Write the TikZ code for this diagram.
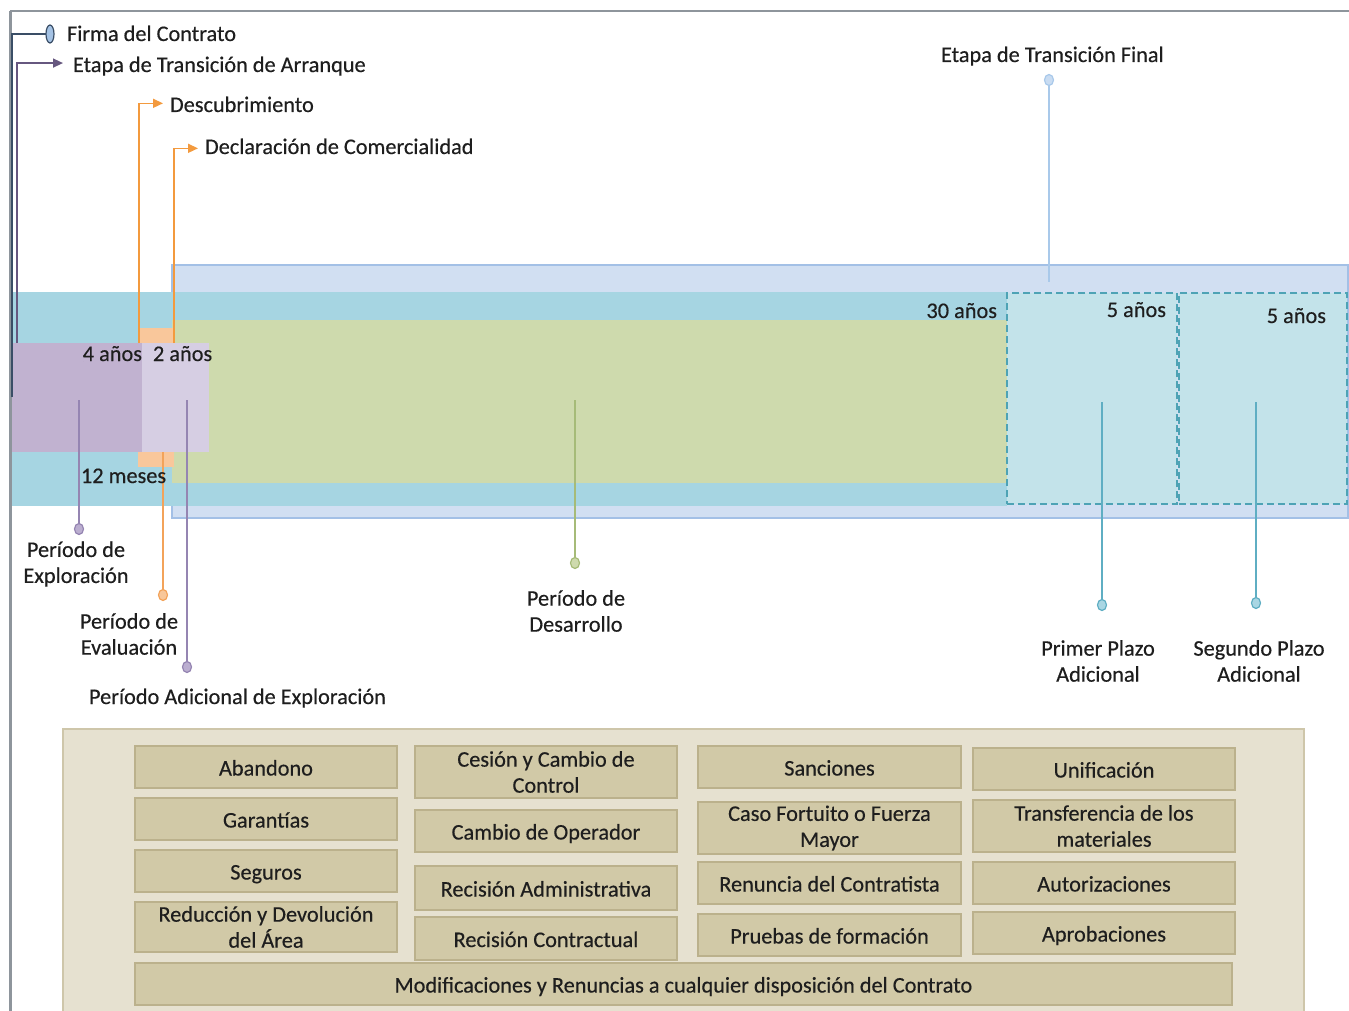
\documentclass[tikz,border=0pt]{standalone}
\usepackage{fontspec}
\setmainfont{Carlito}[FakeBold=0.4]
\usetikzlibrary{arrows.meta,shapes.geometric}
\definecolor{framec}{HTML}{8E959C}
\definecolor{navy}{HTML}{3A4E66}
\definecolor{dpurple}{HTML}{66577F}
\definecolor{orangeln}{HTML}{F39A3E}
\definecolor{blueband}{HTML}{D1DFF2}
\definecolor{bluebandB}{HTML}{A3C0E6}
\definecolor{tealc}{HTML}{A6D5E2}
\definecolor{greenc}{HTML}{CEDAAD}
\definecolor{orangec}{HTML}{F9C79B}
\definecolor{purplec}{HTML}{C1B2D0}
\definecolor{purpleL}{HTML}{D6CEE3}
\definecolor{dashfill}{HTML}{C3E3EA}
\definecolor{dashdraw}{HTML}{4EA3B5}
\definecolor{pinPd}{HTML}{9585B2}
\definecolor{pinPf}{HTML}{BBAED0}
\definecolor{pinOd}{HTML}{F3A35A}
\definecolor{pinOf}{HTML}{F8C79A}
\definecolor{pinGd}{HTML}{A6BB78}
\definecolor{pinGf}{HTML}{CEDAAD}
\definecolor{pinTd}{HTML}{5FAEC3}
\definecolor{pinTf}{HTML}{A9D6E3}
\definecolor{pinBd}{HTML}{A9C9EA}
\definecolor{pinBf}{HTML}{C9DCF2}
\definecolor{firmaF}{HTML}{A4C2E4}
\definecolor{panelc}{HTML}{E6E1D0}
\definecolor{panelB}{HTML}{CEC6AA}
\definecolor{boxF}{HTML}{D1C9A7}
\definecolor{boxB}{HTML}{BBB18C}
\definecolor{txt}{HTML}{1E1E1E}
\begin{document}
\begin{tikzpicture}[x=1pt,y=-1pt,
  every node/.style={font=\fontsize{22.3}{26}\selectfont, text=txt},
  region/.style={inner sep=0pt, outer sep=0pt, anchor=north west, draw=none},
  lbl/.style={inner sep=0pt, outer sep=0pt},
  pinmark/.style={ellipse, inner sep=0pt, outer sep=0pt, minimum width=9pt, minimum height=11pt, line width=1.2pt},
  tbox/.style={region, draw=boxB, fill=boxF, line width=1.5pt, align=center, minimum width=262pt},
  onebox/.style={tbox, text height=17pt, text depth=0pt},
  dbox/.style={region, fill=dashfill, draw=dashdraw, line width=2pt, dash pattern=on 7pt off 4pt},
  conn/.style={line width=1.5pt},
  tip/.style={-{Triangle[length=10pt,width=9pt]}},
]
\useasboundingbox (0,0) rectangle (1349,1011);
\fill[white] (0,0) rectangle (1349,1011);

% frame coordinates
\coordinate (ftl) at (10,11);
\coordinate (ftr) at (1349,11);
\coordinate (fbl) at (10,1011);

% time bands
\node[region, fill=blueband, draw=bluebandB, line width=1.5pt, minimum width=1176pt, minimum height=253pt] (bandB) at (172,265) {};
\node[region, fill=tealc, minimum width=996pt, minimum height=214pt] (bandT) at (11,292) {};
\node[region, fill=greenc, minimum width=835pt, minimum height=163pt] (dev) at (172,320) {};
\node[region, fill=orangec, minimum width=36pt, minimum height=139pt] (eva) at (138,328) {};
\node[region, fill=purplec, minimum width=131pt, minimum height=109pt] (expl) at (11,343) {};
\node[region, fill=purpleL, minimum width=67pt, minimum height=109pt] (explA) at (142,343) {};
\node[dbox, minimum width=170pt, minimum height=211pt] (p1) at (1007,293) {};
\node[dbox, minimum width=168pt, minimum height=211pt] (p2) at (1179,293) {};

% duration labels
\node[lbl, anchor=base east] (l4) at (142,361) {4 años};
\node[lbl, anchor=base west] (l2) at (153,361) {2 años};
\node[lbl, anchor=base east] (l30) at (997,318) {30 años};
\node[lbl, anchor=base east] (l5a) at (1166,317) {5 años};
\node[lbl, anchor=base east] (l5b) at (1326,323) {5 años};

% top markers
\node[lbl, anchor=base west] (tFirma) at (67,41) {Firma del Contrato};
\node[lbl, anchor=base west] (tArr) at (73,72) {Etapa de Transición de Arranque};
\node[lbl, anchor=base west] (tDesc) at (170,112) {Descubrimiento};
\node[lbl, anchor=base west] (tDecl) at (205,154) {Declaración de Comercialidad};
\node[lbl, anchor=base west] (tFin) at (941,62) {Etapa de Transición Final};

\coordinate (cArr) at (17,343);
\coordinate (cDesc) at (139,343);
\coordinate (cDecl) at (174,343);
\draw[dpurple, conn, tip, shorten >=10pt] (cArr) |- ([yshift=3pt]tArr.west);
\draw[orangeln, conn, tip, shorten >=7pt] (cDesc) |- ([yshift=1pt]tDesc.west);
\draw[orangeln, conn, tip, shorten >=7pt] (cDecl) |- ([yshift=-2pt]tDecl.west);

\node[pinmark, fill=pinBf, draw=pinBd] (mFin) at (1049,80) {};
\coordinate (cFin) at (1049,282);
\draw[pinBd, conn] (mFin) -- (cFin);

% bottom pins
\coordinate (cE) at (79,400);
\coordinate (cV) at (163,452);
\coordinate (cA) at (187,400);
\coordinate (cD) at (575,400);
\coordinate (cP1) at (1102,402);
\coordinate (cP2) at (1256,402);
\node[pinmark, fill=pinPf, draw=pinPd] (mE) at (79,529) {};
\node[pinmark, fill=pinOf, draw=pinOd] (mV) at (163,595) {};
\node[pinmark, fill=pinPf, draw=pinPd] (mA) at (187,667) {};
\node[pinmark, fill=pinGf, draw=pinGd] (mD) at (575,563) {};
\node[pinmark, fill=pinTf, draw=pinTd] (mP1) at (1102,605) {};
\node[pinmark, fill=pinTf, draw=pinTd] (mP2) at (1256,603) {};
\draw[pinPd, conn] (cE) -- (mE);
\draw[pinOd, conn] (cV) -- (mV);
\draw[pinPd, conn] (cA) -- (mA);
\draw[pinGd, conn] (cD) -- (mD);
\draw[pinTd, conn] (cP1) -- (mP1);
\draw[pinTd, conn] (cP2) -- (mP2);
\node[lbl, anchor=base west] (l12) at (81,483) {12 meses};

\node[lbl, align=center] (tE) at (76,564) {Período de\\Exploración};
\node[lbl, align=center] (tV) at (129,634) {Período de\\Evaluación};
\node[lbl, anchor=base west] (tA) at (89,704) {Período Adicional de Exploración};
\node[lbl, align=center] (tD) at (576,611) {Período de\\Desarrollo};
\node[lbl, align=center] (tP1) at (1098,661) {Primer Plazo\\Adicional};
\node[lbl, align=center] (tP2) at (1259,661) {Segundo Plazo\\Adicional};

% bottom panel
\node[region, fill=panelc, draw=panelB, line width=1.5pt, minimum width=1241pt, minimum height=300pt] (panel) at (63,729) {};
\node[onebox, minimum height=42pt] (b1) at (135,746) {Abandono};
\node[onebox, minimum height=42pt] (b2) at (135,798) {Garantías};
\node[onebox, minimum height=42pt] (b3) at (135,850) {Seguros};
\node[tbox, minimum height=50pt] (b4) at (135,902) {Reducción y Devolución\\del Área};
\node[tbox, minimum height=52pt] (c1) at (415,746) {Cesión y Cambio de\\Control};
\node[onebox, minimum height=42pt] (c2) at (415,810) {Cambio de Operador};
\node[onebox, minimum height=44pt] (c3) at (415,866) {Recisión Administrativa};
\node[onebox, minimum height=43pt] (c4) at (415,917) {Recisión Contractual};
\node[onebox, minimum width=263pt, minimum height=42pt] (d1) at (698,746) {Sanciones};
\node[tbox, minimum width=263pt, minimum height=52pt] (d2) at (698,802) {Caso Fortuito o Fuerza\\Mayor};
\node[onebox, minimum width=263pt, minimum height=42pt] (d3) at (698,862) {Renuncia del Contratista};
\node[onebox, minimum width=263pt, minimum height=42pt] (d4) at (698,914) {Pruebas de formación};
\node[onebox, minimum height=42pt] (e1) at (973,748) {Unificación};
\node[tbox, minimum height=52pt] (e2) at (973,800) {Transferencia de los\\materiales};
\node[onebox, minimum height=42pt] (e3) at (973,862) {Autorizaciones};
\node[onebox, minimum height=42pt] (e4) at (973,912) {Aprobaciones};
\node[onebox, minimum width=1097pt, minimum height=42pt] (wide) at (135,963) {Modificaciones y Renuncias a cualquier disposición del Contrato};

% frame lines
\draw[framec, line width=1.5pt] (ftl) -- (ftr);
\draw[framec, line width=3pt] (ftl) -- (fbl);

% firma del contrato
\node[pinmark, minimum width=8pt, minimum height=18pt, fill=firmaF, draw=navy] (mFirma) at (50,34) {};
\coordinate (cFirma) at (12,397);
\draw[navy, line width=2pt] (cFirma) |- (mFirma);
\end{tikzpicture}
\end{document}
